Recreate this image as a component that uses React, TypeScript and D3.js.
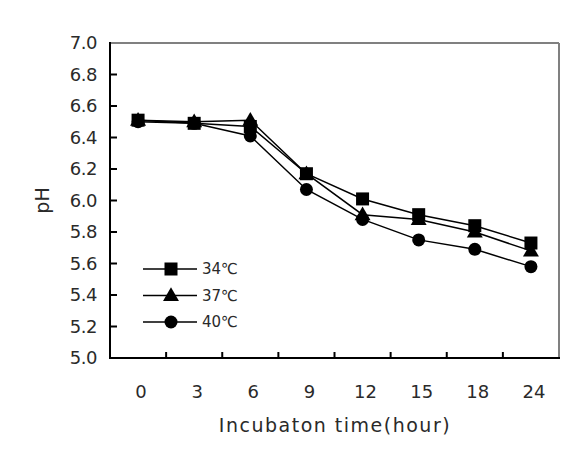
import React from "react";
import * as d3 from "d3";

const categories = ["0", "3", "6", "9", "12", "15", "18", "24"];
const s34 = [6.51, 6.49, 6.47, 6.17, 6.01, 5.91, 5.84, 5.73];
const s37 = [6.51, 6.5, 6.51, 6.17, 5.91, 5.88, 5.8, 5.68];
const s40 = [6.5, 6.49, 6.41, 6.07, 5.88, 5.75, 5.69, 5.58];
const yTicks = [5.0, 5.2, 5.4, 5.6, 5.8, 6.0, 6.2, 6.4, 6.6, 6.8, 7.0];
const seriesNames = ["34℃", "37℃", "40℃"];
const seriesShapes = ["square", "triangle", "circle"];

const W = 573, H = 454;
const L = 110, R = 559, T = 43, B = 358;
const font = "'DejaVu Sans', Verdana, sans-serif";
const txt = "#2a2a2a";

function Marker({ shape, x, y }: { shape: string; x: number; y: number }) {
  if (shape === "square") return <rect x={x - 6.5} y={y - 6.5} width={13} height={13} fill="#000" />;
  if (shape === "circle") return <circle cx={x} cy={y} r={6.5} fill="#000" />;
  const p = d3.symbol(d3.symbolTriangle, 110)();
  return <path d={p || ""} transform={`translate(${x},${y + 1})`} fill="#000" />;
}

export default function App() {
  const x = d3.scaleBand<string>().domain(categories).range([L, R]).padding(0);
  const y = d3.scaleLinear().domain([5, 7]).range([B, T]);
  const cx = (c: string) => (x(c) as number) + x.bandwidth() / 2;
  const line = d3.line<number>().x((_, i) => cx(categories[i])).y((v) => y(v));
  const series = [s34, s37, s40];
  const boundaries = categories.slice(1).map((c) => x(c) as number);

  return (
    <svg width={W} height={H} style={{ position: "absolute", left: 0, top: 0, background: "#fff" }}>
      <rect x={0} y={0} width={W} height={H} fill="#fff" />
      {/* frame */}
      <line x1={L} y1={T} x2={R} y2={T} stroke="#808080" strokeWidth={2} />
      <line x1={R} y1={T} x2={R} y2={B} stroke="#808080" strokeWidth={2} />
      <line x1={L} y1={T - 1} x2={L} y2={B + 1} stroke="#000" strokeWidth={2} />
      <line x1={L - 1} y1={B} x2={R + 1} y2={B} stroke="#000" strokeWidth={2} />
      {/* y ticks */}
      {yTicks.map((t) => (
        <g key={t}>
          {t > 5 && t < 7 && <line x1={L} x2={L + 7} y1={y(t)} y2={y(t)} stroke="#000" strokeWidth={2} />}
          <text x={97} y={y(t)} dy="0.36em" textAnchor="end" fontFamily={font} fontSize={18} letterSpacing={-0.5} fill={txt}>
            {t.toFixed(1)}
          </text>
        </g>
      ))}
      {/* x ticks */}
      {boundaries.map((b, i) => (
        <line key={i} x1={b} x2={b} y1={B} y2={B - 6} stroke="#000" strokeWidth={2} />
      ))}
      {categories.map((c) => (
        <text key={c} x={cx(c) + 3} y={392} dy="0.36em" textAnchor="middle" fontFamily={font} fontSize={18} fill={txt}>
          {c}
        </text>
      ))}
      <text x={335} y={425} dy="0.36em" textAnchor="middle" fontFamily={font} fontSize={19} letterSpacing={1.5} fill={txt}>
        Incubaton time(hour)
      </text>
      <text transform={`translate(42,${(T + B) / 2}) rotate(-90)`} textAnchor="middle" dy="0.36em" fontFamily={font} fontSize={19} fill={txt}>
        pH
      </text>
      {/* series */}
      {series.map((s, k) => (
        <g key={k}>
          <path d={line(s) || ""} fill="none" stroke="#000" strokeWidth={1.5} />
          {s.map((v, i) => (
            <Marker key={i} shape={seriesShapes[k]} x={cx(categories[i])} y={y(v)} />
          ))}
        </g>
      ))}
      {/* legend */}
      {seriesNames.map((n, k) => {
        const ly = 269 + k * 26.5;
        return (
          <g key={n}>
            <line x1={143} x2={197} y1={ly} y2={ly} stroke="#000" strokeWidth={1.5} />
            <Marker shape={seriesShapes[k]} x={171} y={ly} />
            <text x={202} y={ly} dy="0.36em" fontFamily={font} fontSize={15} fill={txt}>
              {n}
            </text>
          </g>
        );
      })}
    </svg>
  );
}
